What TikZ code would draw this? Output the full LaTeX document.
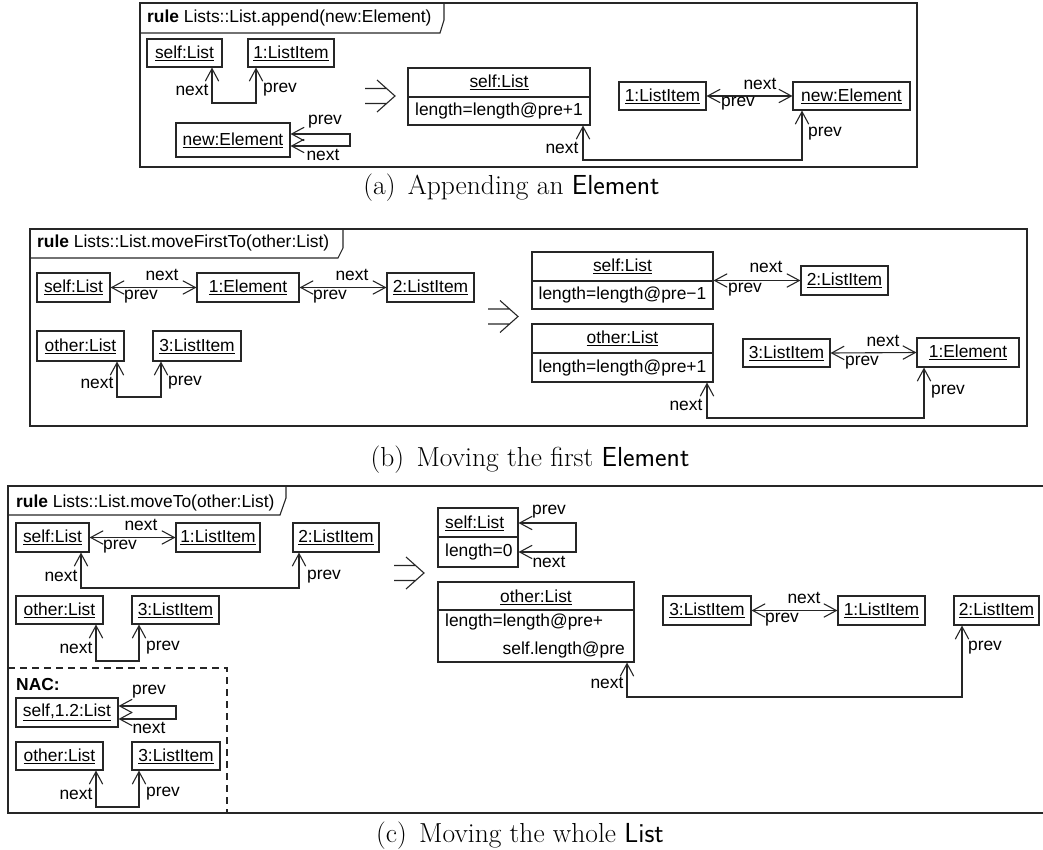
\documentclass[tikz,border=0pt]{standalone}
\usepackage{fontspec}
\newfontfamily\umlfont{Liberation Sans}
\newcommand\umlsz{\umlfont\fontsize{17.4}{20}\selectfont}
\newcommand\capsz{\fontsize{27.5}{32}\selectfont}
\usetikzlibrary{arrows.meta}
\begin{document}
\begin{tikzpicture}[x=1pt,y=-1pt,
  ln/.style={draw=black!85, line width=1.1pt},
  obj/.style={draw=black!85, line width=1.1pt, inner sep=0pt, font=\umlsz},
  lbl/.style={inner sep=0pt, font=\umlsz},
  captxt/.style={inner sep=0pt, font=\capsz},
  >={Straight Barb[length=12.5pt,width=13.5pt]},
  conn/.style={draw=black!85, line width=1.1pt, <->},
  implies/.pic={\draw[draw=black!85, line width=1.1pt] (-15,-7.5) -- (7,-7.5) (-15,7.5) -- (7,7.5) (-3,-16) -- (15,0) -- (-3,16);}
]
\useasboundingbox (0,0) rectangle (1043,850);

% ===================== (a) =====================
\draw[ln] (140,3) rectangle (917,167);
\draw[ln] (140,33) -- (440,33) -- (444,20) -- (444,3);
\node[lbl, anchor=west] (ta) at (147,18) {\textbf{rule} Lists::List.append(new:Element)};

\node[obj, minimum width=75pt, minimum height=28pt] (a1) at (184.5,53) {\underline{self:List}};
\node[obj, minimum width=86pt, minimum height=28pt] (a2) at (291,53) {\underline{1:ListItem}};
\node[obj, minimum width=114pt, minimum height=34pt] (a3) at (233,140) {\underline{new:Element}};
\draw[conn] (a1.south -| 212,0) -- (212,103) -- (256,103) -- (a2.south -| 256,0);
\node[lbl] (la1) at (192,90) {next};
\node[lbl] (la2) at (280,90) {prev};
\draw[conn] (a3.east |- 0,134) -- (350,134) -- (350,146) -- (a3.east |- 0,146);
\node[lbl] (la3) at (325,122) {prev};
\node[lbl] (la4) at (323,155) {next};

\pic at (380,96) {implies};

\node[obj, minimum width=182pt, minimum height=57pt] (a4) at (499,96.5) {};
\draw[ln] (a4.west |- 0,97) -- (a4.east |- 0,97);
\node[lbl] (a4h) at (499,82.5) {\underline{self:List}};
\node[lbl] (a4a) at (499,111) {length=length@pre+1};
\node[obj, minimum width=87pt, minimum height=28pt] (a5) at (662.5,96) {\underline{1:ListItem}};
\node[obj, minimum width=117pt, minimum height=28pt] (a6) at (851.5,96) {\underline{new:Element}};
\draw[conn] (a5.east) -- (a6.west);
\node[lbl] (la5) at (760,84) {next};
\node[lbl] (la6) at (738,104) {prev};
\draw[conn] (a4.south -| 583,0) -- (583,160) -- (802,160) -- (a6.south -| 802,0);
\node[lbl] (la7) at (562,148) {next};
\node[lbl] (la8) at (825,134) {prev};

\node[captxt] (capa) at (511.5,188) {(a)\hspace{0.45em}Appending an \textsf{Element}};

% ===================== (b) =====================
\draw[ln] (30,229) rectangle (1027,426);
\draw[ln] (30,258) -- (338,258) -- (343,248) -- (343,229);
\node[lbl, anchor=west] (tb) at (37,243) {\textbf{rule} Lists::List.moveFirstTo(other:List)};

\node[obj, minimum width=73pt, minimum height=29pt] (b1) at (73.5,287.5) {\underline{self:List}};
\node[obj, minimum width=102pt, minimum height=29pt] (b2) at (248,287.5) {\underline{1:Element}};
\node[obj, minimum width=87pt, minimum height=29pt] (b3) at (430.5,287.5) {\underline{2:ListItem}};
\draw[conn] (b1.east) -- (b2.west);
\node[lbl] (lb1) at (162,275) {next};
\node[lbl] (lb2) at (141,297) {prev};
\draw[conn] (b2.east) -- (b3.west);
\node[lbl] (lb3) at (352,275) {next};
\node[lbl] (lb4) at (330,297) {prev};
\node[obj, minimum width=87pt, minimum height=30pt] (b4) at (80.5,346) {\underline{other:List}};
\node[obj, minimum width=88pt, minimum height=30pt] (b5) at (197,346) {\underline{3:ListItem}};
\draw[conn] (b4.south -| 117,0) -- (117,397) -- (161,397) -- (b5.south -| 161,0);
\node[lbl] (lb5) at (97,383) {next};
\node[lbl] (lb6) at (185,383) {prev};

\pic at (503,316.5) {implies};

\node[obj, minimum width=181pt, minimum height=57pt] (b6) at (622.5,280.5) {};
\draw[ln] (b6.west |- 0,281) -- (b6.east |- 0,281);
\node[lbl] (b6h) at (622.5,266.5) {\underline{self:List}};
\node[lbl] (b6a) at (622.5,295.5) {length=length@pre−1};
\node[obj, minimum width=87pt, minimum height=29pt] (b7) at (844.5,280.5) {\underline{2:ListItem}};
\draw[conn] (b6.east) -- (b7.west);
\node[lbl] (lb7) at (766,267) {next};
\node[lbl] (lb8) at (745,290) {prev};

\node[obj, minimum width=181pt, minimum height=58pt] (b8) at (622.5,353) {};
\draw[ln] (b8.west |- 0,353) -- (b8.east |- 0,353);
\node[lbl] (b8h) at (622.5,338.5) {\underline{other:List}};
\node[lbl] (b8a) at (622.5,367.5) {length=length@pre+1};
\node[obj, minimum width=87pt, minimum height=28pt] (b9) at (786.5,353) {\underline{3:ListItem}};
\node[obj, minimum width=102pt, minimum height=29pt] (b10) at (968,352.5) {\underline{1:Element}};
\draw[conn] (b9.east) -- (b10.west);
\node[lbl] (lb9) at (883,341) {next};
\node[lbl] (lb10) at (862,363) {prev};
\draw[conn] (b8.south -| 707,0) -- (707,418) -- (924,418) -- (b10.south -| 924,0);
\node[lbl] (lb11) at (686,405) {next};
\node[lbl] (lb12) at (948,392) {prev};

\node[captxt] (capb) at (530,460) {(b)\hspace{0.45em}Moving the first \textsf{Element}};

% ===================== (c) =====================
\draw[ln] (1043,486) -- (8,486) -- (8,813) -- (1043,813);
\draw[ln] (8,515) -- (280,515) -- (286,498) -- (286,486);
\node[lbl, anchor=west] (tc) at (16,503) {\textbf{rule} Lists::List.moveTo(other:List)};

\node[obj, minimum width=73pt, minimum height=29pt] (c1) at (52.5,537.5) {\underline{self:List}};
\node[obj, minimum width=84pt, minimum height=29pt] (c2) at (218,537.5) {\underline{1:ListItem}};
\node[obj, minimum width=86pt, minimum height=29pt] (c3) at (336,537.5) {\underline{2:ListItem}};
\draw[conn] (c1.east) -- (c2.west);
\node[lbl] (lc1) at (141,525) {next};
\node[lbl] (lc2) at (120,547) {prev};
\draw[conn] (c1.south -| 81,0) -- (81,588) -- (299,588) -- (c3.south -| 299,0);
\node[lbl] (lc3) at (61,576) {next};
\node[lbl] (lc4) at (324,577) {prev};
\node[obj, minimum width=87pt, minimum height=28pt] (c4) at (59.5,610) {\underline{other:List}};
\node[obj, minimum width=87pt, minimum height=28pt] (c5) at (175.5,610) {\underline{3:ListItem}};
\draw[conn] (c4.south -| 96,0) -- (96,661) -- (139,661) -- (c5.south -| 139,0);
\node[lbl] (lc5) at (76,648) {next};
\node[lbl] (lc6) at (163,648) {prev};

\draw[ln, dash pattern=on 7pt off 5pt] (8,668) -- (227,668) -- (227,813);
\node[lbl, anchor=west] (nac) at (16,685) {\textbf{NAC:}};
\node[obj, minimum width=102pt, minimum height=29pt] (c6) at (67,712.5) {\underline{self,1.2:List}};
\draw[conn] (c6.east |- 0,706) -- (176,706) -- (176,719) -- (c6.east |- 0,719);
\node[lbl] (lc7) at (149,692) {prev};
\node[lbl] (lc8) at (149,728) {next};
\node[obj, minimum width=87pt, minimum height=28pt] (c7) at (59.5,756) {\underline{other:List}};
\node[obj, minimum width=88pt, minimum height=28pt] (c8) at (176,756) {\underline{3:ListItem}};
\draw[conn] (c7.south -| 96,0) -- (96,807) -- (139,807) -- (c8.south -| 139,0);
\node[lbl] (lc9) at (76,794) {next};
\node[lbl] (lc10) at (163,794) {prev};

\pic at (409,573) {implies};

\node[obj, minimum width=80pt, minimum height=59pt] (c9) at (478,537.5) {};
\draw[ln] (c9.west |- 0,537) -- (c9.east |- 0,537);
\node[lbl, anchor=west] (c9h) at (445,523) {\underline{self:List}};
\node[lbl, anchor=west] (c9a) at (445,552) {length=0};
\draw[conn] (c9.east |- 0,523) -- (576,523) -- (576,552) -- (c9.east |- 0,552);
\node[lbl] (lc11) at (549,512) {prev};
\node[lbl] (lc12) at (549,562) {next};

\node[obj, minimum width=196pt, minimum height=80pt] (c10) at (536,622) {};
\draw[ln] (c10.west |- 0,610) -- (c10.east |- 0,610);
\node[lbl] (c10h) at (536,597) {\underline{other:List}};
\node[lbl, anchor=west] (c10a) at (445,622) {length=length@pre+};
\node[lbl, anchor=east] (c10b) at (625,650) {self.length@pre};

\node[obj, minimum width=88pt, minimum height=29pt] (c11) at (707,610.5) {\underline{3:ListItem}};
\node[obj, minimum width=87pt, minimum height=29pt] (c12) at (881.5,610.5) {\underline{1:ListItem}};
\draw[conn] (c11.east) -- (c12.west);
\node[lbl] (lc13) at (804,598) {next};
\node[lbl] (lc14) at (782,620) {prev};
\node[obj, minimum width=85pt, minimum height=29pt] (c13) at (996.5,610.5) {\underline{2:ListItem}};
\draw[conn] (c10.south -| 627,0) -- (627,697) -- (962,697) -- (c13.south -| 962,0);
\node[lbl] (lc15) at (607,683) {next};
\node[lbl] (lc16) at (985,648) {prev};

\node[captxt] (capc) at (520,836) {(c)\hspace{0.45em}Moving the whole \textsf{List}};
\end{tikzpicture}
\end{document}
